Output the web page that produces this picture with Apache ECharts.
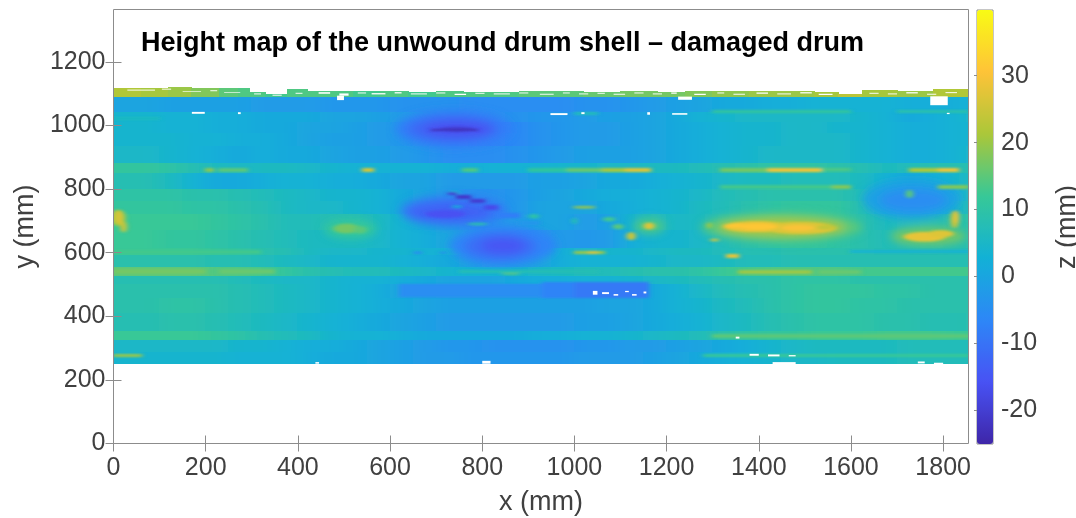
<!DOCTYPE html>
<html><head><meta charset="utf-8">
<style>html,body{margin:0;padding:0;background:#fff}#c{width:1076px;height:518px;position:relative}
canvas[data-zr-dom-id="zr_1"]{filter:url(#b1);clip-path:inset(0 107.5px 0 113.5px)}
canvas[data-zr-dom-id="zr_2"]{filter:url(#b2);clip-path:inset(0 107.5px 0 113.5px)}
canvas[data-zr-dom-id="zr_3"]{filter:url(#b3);clip-path:inset(0 107.5px 0 113.5px)}
canvas[data-zr-dom-id="zr_4"]{filter:url(#b4);clip-path:inset(0 107.5px 0 113.5px)}
</style>
<script src="https://cdn.jsdelivr.net/npm/echarts@6/dist/echarts.min.js"></script></head>
<body>
<svg width="0" height="0" style="position:absolute"><defs>
<filter id="b1" x="0" y="0" width="100%" height="100%" filterUnits="objectBoundingBox"><feGaussianBlur stdDeviation="10 0.5"/></filter>
<filter id="b2" x="0" y="0" width="100%" height="100%"><feGaussianBlur stdDeviation="5 4"/></filter>
<filter id="b3" x="0" y="0" width="100%" height="100%"><feGaussianBlur stdDeviation="2.5 0.8"/></filter>
<filter id="b4" x="0" y="0" width="100%" height="100%"><feGaussianBlur stdDeviation="0.5 0.4"/></filter>
</defs></svg>
<div id="c"></div>
<script>
const xTicks=[0,200,400,600,800,1000,1200,1400,1600,1800];
const yTicks=[0,200,400,600,800,1000,1200];
const zTicks=[-20,-10,0,10,20,30];
const parula=['#3E26A8','#4852F4','#2D87F7','#12B1D6','#37C897','#ABC739','#FEC338','#F9FB14'];
const xEdges=[-80,50,100,150,200,250,300,350,400,450,500,550,600,650,700,750,800,850,900,950,1000,1050,1100,1150,1200,1250,1300,1350,1400,1450,1500,1550,1600,1650,1700,1750,1800,1850,1950];
const yEdges=[1092,1042,1010,975,935,880,848,800,760,720,670,612,590,555,525,500,455,410,353,324,285,252];
const zBase=[
[0,0,-1,-1,-1,-1,-2,-2,-2,-3,-3,-3,-4,-4,-4,-5,-5,-5,-5,-5,-4,-4,-3,-2,-1,0,1,1,2,2,3,3,3,3,2,2,2,3],
[4,4,3,3,2,2,1,1,1,0,0,-1,-2,-3,-4,-5,-5,-4,-3,-3,-2,-1,-1,0,1,3,4,5,5,5,5,5,4,3,1,2,3,5],
[4,4,3,3,2,2,1,1,0,0,-1,-2,-3,-5,-7,-8,-8,-6,-4,-3,-2,-2,-1,0,1,2,3,4,4,5,5,4,4,3,2,2,3,4],
[4,4,4,3,3,2,2,1,0,-1,-1,-2,-3,-4,-6,-7,-7,-6,-4,-3,-2,-2,-1,0,1,2,3,4,4,5,5,5,4,3,2,2,3,4],
[5,5,4,3,2,1,2,1,1,0,-1,-1,-2,-3,-5,-5,-5,-4,-3,-2,-1,-1,-1,0,1,2,3,4,5,5,5,5,4,3,2,2,3,5],
[11,11,10,8,6,5,6,6,5,4,3,3,3,3,2,2,3,3,3,4,4,5,5,6,6,7,8,9,10,10,10,9,8,6,7,8,8,8],
[8,8,6,3,1,1,2,3,3,2,2,1,0,0,-2,-2,-2,-2,-1,-1,0,1,1,2,3,4,5,6,6,7,7,7,6,3,1,2,4,7],
[10,10,10,9,9,8,7,6,5,4,4,3,1,0,-2,-4,-4,-3,-1,0,1,2,2,3,4,5,7,8,9,9,9,9,7,2,0,0,2,8],
[11,11,11,10,10,9,8,6,5,5,4,3,1,-1,-3,-5,-4,-3,0,0,0,1,2,3,4,6,7,9,10,11,11,11,8,3,2,2,4,9],
[12,12,12,12,11,10,9,7,7,8,8,6,3,1,-1,-3,-3,-2,0,0,-2,-1,4,7,5,6,8,10,12,12,12,11,9,6,7,8,9,10],
[12,12,11,11,10,9,8,7,6,6,6,5,3,2,0,0,-2,-5,-4,-2,-3,-2,2,4,4,5,7,9,10,11,11,10,9,7,8,9,8,9],
[12,12,12,12,11,10,9,8,6,5,5,4,4,3,3,2,1,0,0,2,5,4,4,5,6,6,7,8,8,9,9,9,9,8,8,8,8,8],
[9,9,9,9,8,8,7,6,5,4,4,4,3,2,1,-1,-2,-1,0,2,3,3,3,4,5,5,6,7,7,8,8,8,8,8,8,8,8,8],
[15,15,15,15,14,14,13,11,9,8,7,7,6,5,4,3,3,4,5,6,7,7,8,9,9,10,12,13,14,14,14,14,13,13,13,13,13,13],
[8,8,8,8,8,7,6,5,5,4,3,3,2,1,0,0,0,1,2,2,3,3,4,5,6,7,8,9,9,10,10,10,9,9,9,9,9,9],
[9,9,9,9,9,8,7,6,5,4,3,2,0,-1,-2,-2,-2,-2,-2,-2,-1,-1,0,1,3,5,7,8,9,10,11,11,11,10,10,9,9,9],
[9,9,10,10,9,8,7,6,5,4,3,2,1,0,-1,-1,-1,-1,-1,-1,-1,0,0,1,3,4,6,7,9,10,11,11,10,10,9,9,9,9],
[8,8,9,9,8,7,6,5,4,3,2,1,0,-1,-2,-2,-2,-2,-2,-2,-1,-1,0,1,2,3,5,6,8,9,10,10,10,9,9,8,8,9],
[12,12,12,12,11,10,8,7,6,4,3,3,2,1,1,1,1,1,2,2,3,3,4,5,6,7,9,10,11,11,12,12,12,13,13,13,12,12],
[5,5,5,5,5,4,4,3,2,2,1,0,-1,-2,-3,-3,-4,-4,-4,-4,-3,-3,-2,-2,-1,0,1,2,4,5,6,6,6,6,7,7,7,7],
[4,4,4,4,4,3,3,3,2,1,1,0,-1,-2,-2,-3,-3,-3,-3,-3,-2,-2,-2,-1,0,1,2,3,4,5,5,6,6,6,7,7,7,7]
];
// upper rim: [x0,x1,y0,top y,z]
const rim=[
[0,60,1091,1118,22],[60,120,1091,1117,21],[120,170,1091,1119,20],[170,230,1091,1116,18],[230,272,1091,1117,15],[272,296,1091,1118,14],[296,330,1091,1103,14],[330,378,1091,1098,13],[378,420,1091,1112,14],
[420,470,1091,1106,14],[470,520,1091,1108,14],[520,580,1091,1106,13],[580,640,1091,1107,14],[640,700,1091,1105,13],[700,760,1091,1108,14],[760,820,1091,1105,14],
[820,880,1091,1104,14],[880,950,1091,1106,15],[950,1020,1091,1107,15],[1020,1100,1091,1105,16],[1100,1180,1091,1106,17],[1180,1240,1091,1104,17],[1240,1300,1091,1106,18],[1300,1380,1091,1106,19],
[1380,1450,1091,1107,20],[1450,1520,1091,1108,20],[1520,1572,1091,1105,21],[1572,1625,1091,1097,23],[1625,1700,1091,1110,21],[1700,1780,1091,1108,20],[1780,1860,1091,1114,22]
];
// broad blobs: [centre x, centre y, radius x, radius y, z]
const blobs=[
[738,989,125,58,-8],[738,989,98,40,-12],[745,988,72,24,-16],
[738,731,115,48,-9],[730,728,90,30,-13],
[845,622,115,62,-7],[840,620,78,42,-11],[845,622,48,26,-15],
[514,674,56,28,12],
[1450,680,175,44,15],[1450,680,138,30,21],
[1162,684,34,24,14],
[1768,652,82,28,17],
[1731,768,105,62,-1],[1735,765,72,36,-5]
];
// small spots, same form
const spots=[
[720,722,44,12,-16],[745,988,38,8,-20],
[10,710,16,26,22],[12,712,9,22,26],[22,682,7,18,25],
[505,676,28,15,17],[535,672,14,12,15],
[1395,682,72,17,28],[1490,678,78,19,27],[1350,685,25,7,31],[1400,682,42,10,31],[1485,678,36,9,30],[1545,680,18,8,24],
[1162,684,12,11,27],
[1123,652,10,13,25],[1095,682,12,8,15],[1075,705,14,7,13],
[1021,743,26,4,20],[1293,686,6,9,20],[1304,640,10,4,26],[1000,700,6,10,8],
[1760,650,46,15,28],[1795,660,28,11,27],[1825,705,9,28,25],[1830,712,4,20,30],
[1727,785,8,13,15],
[740,790,12,7,2],[745,745,12,4,1],[790,690,22,4,9],[912,715,12,7,10],[862,535,20,4,15],
[660,600,10,4,-6],[715,600,8,3,-6]
];
// streaks: [x0,x1,y0,y1,z]
const streaks=[
[200,217,856,866,19],[228,290,857,865,15],[540,565,856,866,26],[757,790,857,865,14],[900,985,857,865,11],
[985,1060,857,865,16],[1060,1110,856,866,21],[1110,1165,856,866,27],[1318,1420,857,865,17],[1420,1535,856,866,29],[1535,1600,858,864,14],
[1727,1790,856,866,22],[1790,1833,856,866,29],
[1318,1600,802,810,13],[1560,1600,802,810,18],[1790,1855,802,810,18],
[0,320,598,606,13],[1000,1065,597,605,20],[1030,1050,598,604,27],[1330,1355,585,593,28],[1600,1858,601,606,3],
[1355,1514,536,544,20],[1530,1620,536,544,16],[0,200,534,546,17],[230,350,534,546,16],
[750,1050,538,544,8],
[0,60,275,281,20],[1280,1858,275,281,12],[1300,1858,332,342,15],
[620,930,462,500,-5],[930,1000,458,506,-7],[1000,1160,458,506,-9],
[727,745,784,790,-20],[745,775,772,780,-21],[775,805,757,767,-20],[805,833,736,748,-17],[833,880,712,722,-8],[880,925,690,698,-3],
[690,790,983,988,-23],
[1700,1855,1040,1046,9],[1300,1600,1040,1046,11],[1000,1050,1034,1040,7],
[0,100,1020,1026,6]
];
// holes in the data: [x0,x1,y0,y1]
const holes=[
[170,198,1037,1043],[270,276,1036,1042],[485,500,1080,1094],[948,985,1033,1039],[1015,1022,1036,1042],[1158,1164,1034,1042],[1212,1245,1034,1039],[1225,1255,1081,1091],
[1772,1810,1064,1092],[1808,1814,1036,1040],[800,818,251,260],[438,446,251,256],[1430,1480,250,256],[1380,1400,276,282],[1420,1445,274,280],[1465,1480,274,278],[1745,1760,252,258],[1780,1800,250,254],
[1040,1050,468,480],[1060,1075,470,476],[1085,1095,465,470],[1110,1118,476,480],[1125,1135,465,470],[1150,1156,472,478],[1350,1358,330,336],
[30,90,1110,1113],[105,125,1113,1116],[150,190,1106,1108],[210,225,1108,1111],[240,275,1103,1105],[305,320,1098,1101],[345,365,1094,1097],[395,410,1100,1103],[445,470,1100,1105],[490,510,1094,1101],
[530,548,1101,1104],[560,590,1098,1102],[610,625,1101,1105],[645,680,1098,1101],[700,720,1101,1104],[740,765,1096,1100],[785,805,1100,1103],[825,860,1098,1101],[880,900,1101,1104],[925,955,1097,1100],
[975,990,1101,1104],[1010,1030,1098,1101],[1050,1066,1100,1103],[1085,1110,1097,1100],[1130,1150,1101,1104],[1170,1190,1098,1101],[1210,1222,1100,1104],[1260,1285,1096,1100],[1310,1325,1101,1104],[1345,1370,1097,1100],
[1395,1420,1100,1104],[1440,1470,1098,1101],[1490,1515,1101,1105],[1530,1560,1096,1100],[1640,1660,1100,1103],[1680,1700,1098,1101],[1720,1745,1101,1105],[1765,1785,1097,1100],[1805,1830,1102,1105]
];
const cells=[];
zBase.forEach((row,i)=>row.forEach((z,j)=>cells.push([xEdges[j],xEdges[j+1],yEdges[i+1],yEdges[i],z])));
const rectItem=(p,api)=>{
  const a=api.coord([api.value(0),api.value(3)]),b=api.coord([api.value(1),api.value(2)]);
  const x=Math.floor(a[0]),y=Math.floor(a[1]);
  return {type:'rect',shape:{x,y,width:Math.ceil(b[0])-x,height:Math.ceil(b[1])-y},style:{fill:api.visual('color')}};
};
const ellipseItem=(p,api)=>{
  const c=api.coord([api.value(0),api.value(1)]),s=api.size([api.value(2),api.value(3)]);
  return {type:'ellipse',shape:{cx:c[0],cy:c[1],rx:s[0],ry:s[1]},style:{fill:api.visual('color')}};
};
const rectDims=['x0','x1','y0','y1','z'],ellDims=['x','y','rx','ry','z'],rectEnc={x:[0,1],y:[2,3]};
const txt='#404040',font='Liberation Sans',line='#8c8c8c',TOP=6;
const fmt=v=>String(v);
const tickStyle={lineStyle:{color:line}};
const chart=echarts.init(document.getElementById('c'));
chart.setOption({
 animation:false,
 title:{text:'Height map of the unwound drum shell – damaged drum',left:141,top:30,padding:0,zlevel:TOP,
  textStyle:{fontFamily:font,fontSize:27,fontWeight:'bold',color:'#000'}},
 grid:[{left:113.5,top:9.5,width:855,height:434,show:true,borderColor:line,borderWidth:1,zlevel:TOP,outerBoundsMode:'none'},
       {left:977,top:10,width:16,height:434,show:true,borderColor:line,borderWidth:1,zlevel:TOP,outerBoundsMode:'none'}],
 xAxis:[{type:'value',min:0,max:1855,position:'bottom',name:'x (mm)',nameLocation:'middle',nameGap:46,zlevel:TOP,
   nameTextStyle:{fontFamily:font,fontSize:27,color:txt},
   axisLine:{show:false},splitLine:{show:false},
   axisTick:{inside:true,length:8,customValues:xTicks,...tickStyle},
   axisLabel:{customValues:xTicks,formatter:fmt,fontFamily:font,fontSize:25,color:txt,margin:12}},
  {gridIndex:1,type:'value',min:0,max:1,show:false},
  {type:'value',min:0,max:1855,position:'top',zlevel:TOP,axisLine:{show:false},splitLine:{show:false},
   axisTick:{inside:true,length:8,customValues:xTicks,...tickStyle},axisLabel:{show:false}}],
 yAxis:[{type:'value',min:0,max:1365,name:'y (mm)',nameLocation:'middle',nameGap:63,zlevel:TOP,
   nameTextStyle:{fontFamily:font,fontSize:27,color:txt},
   axisLine:{show:false},splitLine:{show:false},
   axisTick:{inside:true,length:8,customValues:yTicks,...tickStyle},
   axisLabel:{customValues:yTicks,formatter:fmt,fontFamily:font,fontSize:25,color:txt,margin:8}},
  {gridIndex:1,type:'value',min:-25,max:39.8,position:'right',name:'z (mm)',nameLocation:'middle',nameGap:61,zlevel:TOP,
   nameRotate:90,nameTextStyle:{fontFamily:font,fontSize:27,color:txt},
   axisLine:{show:false},splitLine:{show:false},
   axisTick:{inside:true,length:3,customValues:zTicks,...tickStyle},
   axisLabel:{customValues:zTicks,formatter:fmt,fontFamily:font,fontSize:25,color:txt,margin:8}},
  {type:'value',min:0,max:1365,position:'right',zlevel:TOP,axisLine:{show:false},splitLine:{show:false},
   axisTick:{inside:true,length:8,customValues:yTicks,...tickStyle},axisLabel:{show:false}}],
 visualMap:{type:'continuous',min:-25,max:39.8,dimension:4,seriesIndex:[0,1,2,3,4],left:977,top:10,zlevel:TOP,
   itemWidth:16,itemHeight:434,padding:0,text:null,showLabel:false,calculable:false,realtime:false,hoverLink:false,
   inRange:{color:parula}},
 series:[
  {type:'custom',silent:true,clip:false,zlevel:1,dimensions:rectDims,encode:rectEnc,renderItem:rectItem,data:cells},
  {type:'custom',silent:true,clip:false,zlevel:2,dimensions:ellDims,encode:{x:0,y:1},renderItem:ellipseItem,data:blobs},
  {type:'custom',silent:true,clip:false,zlevel:3,dimensions:ellDims,encode:{x:0,y:1},renderItem:ellipseItem,data:spots},
  {type:'custom',silent:true,clip:false,zlevel:3,z:3,dimensions:rectDims,encode:rectEnc,renderItem:rectItem,data:streaks},
  {type:'custom',silent:true,clip:false,zlevel:4,z:1,dimensions:rectDims,encode:rectEnc,renderItem:rectItem,data:rim},
  {type:'custom',silent:true,clip:false,zlevel:4,z:4,encode:rectEnc,
   renderItem:(p,api)=>{const a=api.coord([api.value(0),api.value(3)]),b=api.coord([api.value(1),api.value(2)]);
     return {type:'rect',shape:{x:a[0],y:a[1],width:b[0]-a[0],height:b[1]-a[1]},style:{fill:'#fff'}};},data:holes}
 ]
});
</script></body></html>
